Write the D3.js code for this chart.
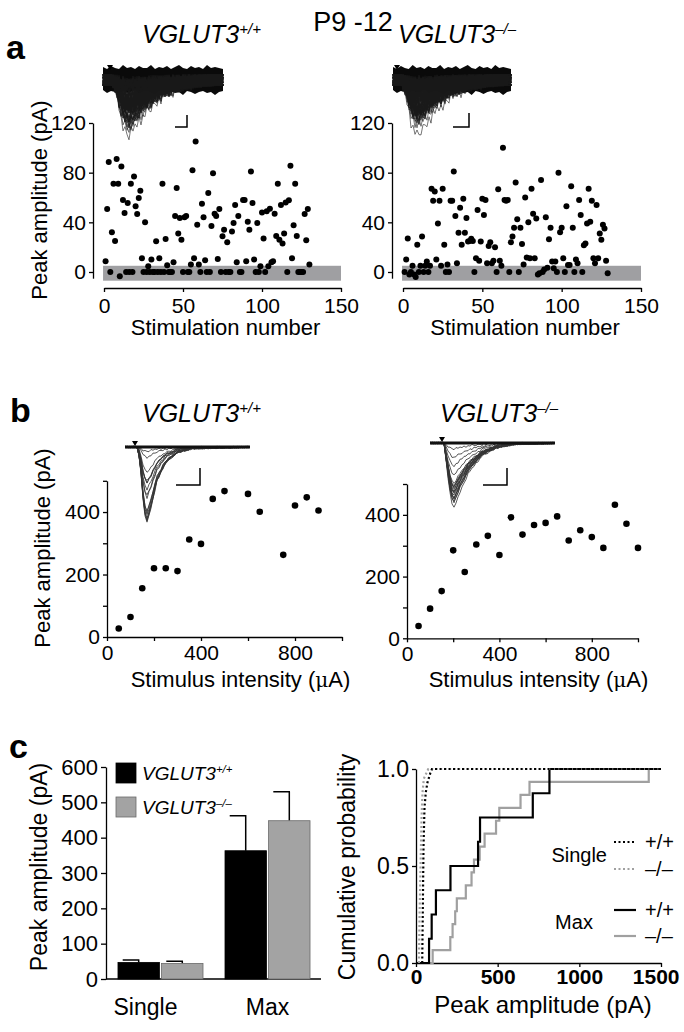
<!DOCTYPE html>
<html><head><meta charset="utf-8">
<script src="https://cdn.jsdelivr.net/npm/d3@7"></script>
<style>body{margin:0;background:#fff} svg{display:block} text{font-family:"Liberation Sans",Arial,Helvetica,sans-serif;fill:#000}</style>
</head><body><svg id="c" width="684" height="1032"></svg>
<script>
// ---------------- DATA ----------------
const stimAxisTicks = [0, 50, 100, 150];
const stimAmpTicks = [0, 40, 80, 120];
// panel a: peak amplitude per stimulation (stim number = index+1)
const stimWT = [8.6,50.7,88.6,0,32,71,25,91,71,-3.5,85,58,47.5,0,55.6,0,71,0,77,53,46.7,59.6,65.5,11,0,40,0,4.6,0,10,0,0,24.7,0,11,0,71,0,26.6,5.4,0,0,0,7.8,45,67.6,31,43.5,26,0,44,45,0,0,6,82,11,105,38,6,0,55,44,9.4,0,63.6,0,37,79.5,47,45,10.5,50.7,0,28.7,34,0,24,0,0,32.7,39.5,54,7.8,45,0,0,58,58,8.6,40.5,34,81,55.6,10,0,39.5,0,4.6,48,27,0,49,4.6,51,7.8,8.6,47,29,71,26,54,23,31,56,0,57.7,85.6,11,37.6,71,29,0,0,0,0,46.7,25.5,50.7,6];
const stimKO = [0,10,27,-2,0,5,-2,-4,22,0,5,28.5,0,5,8.4,0,5,67,57.4,64.8,10,39,57.4,5,67,22,0,6,0,57.4,57.4,81,45,7,31.6,51.7,22,59,31.6,43.5,24.5,25,26.7,25,0,11,50,9,24.5,59,46,58,7,21,24,7,9,20,0,66.7,9,5,100,58,57.4,58,0,24,28.5,35.6,72,42.4,0,35.6,22.6,6,60,11.7,40,11,67,47,11,43,-2,-1,74,0,2,44,3.5,26.4,35.6,8.4,3,8.4,0,80,32,35.6,11,0,53,5.7,5.7,69,35.6,0,10,7,58,46,0,21.5,23,39,67,40.5,57.4,11,7,54,11,31,26,38,35,9,-1];
const noiseBand = [-7, 5];
// panel b: input-output
const intensityTicks = [0, 200, 400, 600, 800, 1000];
const intensityLabels = [0, 400, 800];
const ioAmpTicks = [0, 100, 200, 300, 400, 500];
const ioAmpLabels = [0, 200, 400];
const intensityWT = [50,100,150,200,250,300,350,400,450,500,600,650,750,800,850,900];
const ioWT = [27,64,156,220,220,211,312,298,442,467,458,401,263,421,447,405];
const intensityKO = [50,100,150,200,250,300,350,400,450,500,550,600,650,700,750,800,850,900,950,1000];
const ioKO = [40,96,153,285,215,304,332,270,392,336,367,374,395,317,350,328,293,433,371,293];
// panel c: bars
const barCategories = ["Single", "Max"];
const genotypes = ["+/+", "\u2013/\u2013"];
const barMeanWT = [47, 363];
const barSemWT = [7, 99];
const barMeanKO = [44, 448];
const barSemKO = [6, 82];
const barTicks = [0, 100, 200, 300, 400, 500, 600];
// panel c: cumulative distributions
const maxWT = [80, 96, 122, 211, 380, 392, 715, 817];
const maxKO = [102, 210, 224, 240, 250, 305, 340, 355, 390, 420, 490, 510, 640, 695, 1425];
const singleWTcurve = [[38,0],[42,0.3],[46,0.6],[52,0.8],[60,0.88],[70,0.93],[88,0.98],[98,1],[1500,1]];
const singleKOcurve = [[18,0],[22,0.25],[28,0.5],[34,0.75],[40,0.88],[48,0.95],[75,1],[1500,1]];
const cumXTicks = [0, 500, 1000, 1500];
const cumYTicks = [0, 0.5, 1];
// inset trace shapes (time offset, fraction of peak)
const templateA = [[0,0],[5,0.3],[10,0.75],[16,1],[24,0.8],[35,0.55],[50,0.3],[70,0.12],[90,0.03],[106,0]];
const templateBwt = [[0,0],[3,0.35],[6,0.85],[9,1],[13,0.8],[19,0.45],[28,0.2],[40,0.07],[55,0.02],[110,0]];
const templateBko = [[0,0],[3,0.4],[7,0.9],[10,1],[16,0.75],[25,0.45],[38,0.2],[52,0.08],[70,0.02],[110,0]];
const noiseTop = [-13,-11,-14,-12,-11,-15,-12,-13,-11,-14,-12,-12,-15,-11,-13,-12,-14,-11,-13,-15,-12,-11,-14,-12,-13,-11,-15,-12,-13,-12,-11];
const noiseBot = [10,13,11,12,14,11,13,12,10,14,12,11,13,15,11,12,14,11,13,12,15,11,12,14,12,11,13,12,15,12,11];
const jitter = [0,1.5,-1,2,-2,0.5,-1.5,1,-0.5,2,-1,0,1.5,-2,0.5,-1,1,-1.5,2,-0.5,1,-2,0.5,1.5,-1];

// ---------------- DRAW ----------------
const FONT = '"Liberation Sans", Arial, Helvetica, sans-serif';
const svg = d3.select("#c");
const GRAY = "#9f9fa2";

function styleAxis(g, fs, bold) {
  g.attr("font-family", FONT);
  g.selectAll("path.domain").attr("stroke", "#000").attr("stroke-width", 1.3);
  g.selectAll(".tick line").attr("stroke", "#000").attr("stroke-width", 1.3);
  g.selectAll(".tick text").attr("font-size", fs).attr("fill", "#000").attr("font-weight", bold ? "bold" : "normal");
}
function label(x, y, txt, fs, opts = {}) {
  const t = svg.append("text").attr("x", x).attr("y", y).attr("font-size", fs).text(txt)
    .attr("text-anchor", opts.anchor || "middle");
  if (opts.bold) t.attr("font-weight", "bold");
  if (opts.rotate) t.attr("transform", `rotate(-90,${x},${y})`);
  return t;
}
function vtitle(x, y, sup, fs) {
  const t = svg.append("text").attr("x", x).attr("y", y).attr("font-size", fs).attr("font-style", "italic");
  t.append("tspan").text("VGLUT3");
  t.append("tspan").attr("font-size", fs * 0.6).attr("dy", -fs * 0.38).text(sup);
  return t;
}

label(353, 31, "P9 -12", 27);
label(6, 59, "a", 34, {anchor: "start", bold: true});
label(10, 422, "b", 34, {anchor: "start", bold: true});
label(9, 758, "c", 34, {anchor: "start", bold: true});

// ---- inset traces ----
function drawInset(o) {
  const g = svg.append("g");
  const t = d3.scaleLinear().domain([0, o.len]).range([o.x0, o.x0 + o.len]);
  if (o.noise) {
    const pts = noiseTop.map((v, j) => [t(j * o.len / (noiseTop.length - 1)), o.base + v])
      .concat(noiseBot.map((v, j) => [t(j * o.len / (noiseBot.length - 1)), o.base + v]).reverse());
    g.append("path").attr("d", d3.line().curve(d3.curveLinearClosed)(pts)).attr("fill", "#0a0a0a");
  }
  const interp = d3.scaleLinear().domain(o.template.map(d => d[0])).range(o.template.map(d => d[1])).clamp(true);
  o.amps.forEach((a, i) => {
    if (a <= 0 && o.noise) return;
    const pts = [];
    for (let s = 0; s <= o.len; s += 2) {
      const dt = s - (o.onset - o.x0);
      const f = dt < 0 ? 0 : interp(dt);
      const j = jitter[(s / 2 + i * 7) % jitter.length] * o.jit;
      pts.push([t(s), o.base + Math.max(0, a) * o.k * f + j]);
    }
    g.append("path").attr("d", d3.line()(pts)).attr("fill", "none")
      .attr("stroke", o.color).attr("stroke-width", o.sw).attr("stroke-opacity", o.op);
  });
  if (!o.noise) g.append("line").attr("x1", o.x0).attr("x2", o.x0 + o.len).attr("y1", o.base).attr("y2", o.base)
    .attr("stroke", "#111").attr("stroke-width", 3);
  g.append("path").attr("d", `M${o.stim - 3},${o.base - (o.noise ? 15 : 6)}h6l-3,5z`).attr("fill", "#000");
  g.append("path").attr("d", `M${o.sb[0]},${o.sb[2]}H${o.sb[1]}V${o.sb[3]}`).attr("fill", "none")
    .attr("stroke", "#000").attr("stroke-width", 1.5);
}
drawInset({x0: 103, len: 120, base: 80, onset: 112, stim: 110, template: templateA, amps: stimWT, k: 0.54,
  noise: true, jit: 3, color: "#1a1a1a", sw: 0.7, op: 0.85, sb: [175, 187, 127, 115]});
drawInset({x0: 393, len: 118, base: 80, onset: 401, stim: 397, template: templateA, amps: stimKO, k: 0.56,
  noise: true, jit: 3, color: "#1a1a1a", sw: 0.7, op: 0.85, sb: [453, 469, 127, 113]});
drawInset({x0: 125, len: 125, base: 447, onset: 138, stim: 135, template: templateBwt, amps: ioWT, k: 0.162,
  noise: false, jit: 0.5, color: "#333", sw: 0.9, op: 0.9, sb: [176, 200, 485, 468]});
drawInset({x0: 430, len: 125, base: 443, onset: 444, stim: 442, template: templateBko, amps: ioKO, k: 0.15,
  noise: false, jit: 0.5, color: "#333", sw: 0.9, op: 0.9, sb: [483, 507, 485, 468]});

// ---- panel a ----
function panelA(data, yAxisX, xr, showY) {
  const x = d3.scaleLinear().domain([0, 150]).range(xr);
  const y = d3.scaleLinear().domain([-5, 120]).range([278.2, 123]);
  svg.append("rect").attr("x", x(-0.6)).attr("width", x(150) - x(-0.6))
    .attr("y", y(noiseBand[1])).attr("height", y(noiseBand[0]) - y(noiseBand[1])).attr("fill", GRAY);
  const gy = svg.append("g").attr("transform", `translate(${yAxisX},0)`)
    .call(d3.axisLeft(y).tickValues(stimAmpTicks).tickSize(4).tickSizeOuter(0).tickPadding(3));
  styleAxis(gy, 21);
  const gx = svg.append("g").attr("transform", `translate(0,288)`)
    .call(d3.axisBottom(x).tickValues(stimAxisTicks).tickSize(4).tickSizeOuter(0).tickPadding(6));
  styleAxis(gx, 21);
  svg.append("g").selectAll("circle").data(data).join("circle")
    .attr("cx", (d, i) => x(i + 1)).attr("cy", d => y(d)).attr("r", 3).attr("fill", "#000");
  label((xr[0] + xr[1]) / 2 + 3, 335, "Stimulation number", 22);
  if (showY) label(47, 200, "Peak amplitude (pA)", 22, {rotate: true});
}
panelA(stimWT, 93, [104, 341], true);
panelA(stimKO, 392, [403, 641], false);
vtitle(142, 43, "+/+", 25);
vtitle(398, 43, "\u2013/\u2013", 25);

// ---- panel b ----
function panelB(xs, ys, xr, yr, showY) {
  const x = d3.scaleLinear().domain([0, 1000]).range(xr);
  const y = d3.scaleLinear().domain([0, 500]).range(yr);
  const gy = svg.append("g").attr("transform", `translate(${xr[0]},0)`)
    .call(d3.axisLeft(y).tickValues(ioAmpTicks).tickSize(4).tickSizeOuter(0).tickPadding(3)
      .tickFormat(d => ioAmpLabels.includes(d) ? d : ""));
  styleAxis(gy, 21);
  const gx = svg.append("g").attr("transform", `translate(0,${yr[0]})`)
    .call(d3.axisBottom(x).tickValues(intensityTicks).tickSize(4).tickSizeOuter(0).tickPadding(4)
      .tickFormat(d => intensityLabels.includes(d) ? d : ""));
  styleAxis(gx, 21);
  svg.append("g").selectAll("circle").data(xs).join("circle")
    .attr("cx", d => x(d)).attr("cy", (d, i) => y(ys[i])).attr("r", 3.3).attr("fill", "#000");
  const t = label((xr[0] + xr[1]) / 2 + 16, 687, "", 22);
  t.append("tspan").text("Stimulus intensity (");
  t.append("tspan").attr("font-family", "DejaVu Serif, serif").attr("font-size", 20).text("\u03bc");
  t.append("tspan").text("A)");
  if (showY) label(50, 548, "Peak amplitude (pA)", 22, {rotate: true});
}
panelB(intensityWT, ioWT, [107, 342], [637, 480.8], true);
panelB(intensityKO, ioKO, [407, 638], [638.3, 484], false);
vtitle(142, 422, "+/+", 25);
vtitle(440, 422, "\u2013/\u2013", 25);

// ---- panel c bars ----
{
  const y = d3.scaleLinear().domain([0, 600]).range([979, 767]);
  const x0 = d3.scaleBand().domain(barCategories).range([106, 322]).paddingInner(0.2056).paddingOuter(0.112);
  const x1 = d3.scaleBand().domain(genotypes).range([0, x0.bandwidth()]).paddingInner(0.05);
  const gy = svg.append("g").attr("transform", "translate(106,0)")
    .call(d3.axisLeft(y).tickValues(barTicks).tickSize(5).tickSizeOuter(0).tickPadding(3));
  styleAxis(gy, 22);
  svg.append("line").attr("x1", 106).attr("x2", 321).attr("y1", 979).attr("y2", 979)
    .attr("stroke", "#000").attr("stroke-width", 1.3);
  const rows = [];
  barCategories.forEach((c, i) => {
    rows.push({c, g: genotypes[0], m: barMeanWT[i], s: barSemWT[i], fill: "#000"});
    rows.push({c, g: genotypes[1], m: barMeanKO[i], s: barSemKO[i], fill: "#a3a3a3"});
  });
  rows.forEach(r => {
    const bx = x0(r.c) + x1(r.g), bw = x1.bandwidth(), cx = bx + bw / 2;
    svg.append("path").attr("d", `M${cx},${y(r.m)}V${y(r.m + r.s)}M${cx - 16},${y(r.m + r.s)}H${cx + 0.7}`)
      .attr("stroke", "#000").attr("stroke-width", 1.5).attr("fill", "none");
    svg.append("rect").attr("x", bx).attr("width", bw).attr("y", y(r.m)).attr("height", y(0) - y(r.m))
      .attr("fill", r.fill).attr("stroke", r.fill === "#000" ? "#000" : "#6a6a6a").attr("stroke-width", 0.8);
  });
  const catShift = {Single: -15, Max: 0};
  barCategories.forEach(c => label(x0(c) + x0.bandwidth() / 2 + catShift[c], 1015, c, 23));
  label(47, 867, "Peak amplitude (pA)", 23, {rotate: true});
  [["#000", genotypes[0], 763], ["#a3a3a3", genotypes[1], 797]].forEach(([f, g, yy]) => {
    svg.append("rect").attr("x", 116).attr("y", yy).attr("width", 20).attr("height", 20)
      .attr("fill", f).attr("stroke", f === "#000" ? "#000" : "#6a6a6a").attr("stroke-width", 0.8);
    vtitle(142, yy + 17, g, 19);
  });
}

// ---- panel c cumulative ----
{
  const x = d3.scaleLinear().domain([0, 1500]).range([416, 661]);
  const y = d3.scaleLinear().domain([0, 1]).range([963, 769]);
  const gy = svg.append("g").attr("transform", "translate(416,0)")
    .call(d3.axisLeft(y).tickValues(cumYTicks).tickSize(4).tickSizeOuter(0).tickPadding(3).tickFormat(d3.format(".1f")));
  styleAxis(gy, 23);
  const gx = svg.append("g").attr("transform", "translate(0,963)")
    .call(d3.axisBottom(x).tickValues(cumXTicks).tickSize(4).tickSizeOuter(0).tickPadding(2).tickFormat(d3.format("d")));
  styleAxis(gx, 21, true);
  gx.selectAll(".tick text").filter(d => d === 1500).attr("text-anchor", "end").attr("dx", 18);
  const ecdf = vals => [[0, 0]].concat(vals.map((v, i) => [v, (i + 1) / vals.length]), [[1500, 1]]);
  const step = d3.line().x(d => x(d[0])).y(d => y(d[1])).curve(d3.curveStepAfter);
  const lin = d3.line().x(d => x(d[0])).y(d => y(d[1]));
  svg.append("path").attr("d", step(ecdf(maxKO))).attr("fill", "none").attr("stroke", "#a0a0a0").attr("stroke-width", 2.2);
  svg.append("path").attr("d", step(ecdf(maxWT))).attr("fill", "none").attr("stroke", "#000").attr("stroke-width", 2.2);
  svg.append("path").attr("d", lin(singleKOcurve)).attr("fill", "none").attr("stroke", "#a0a0a0").attr("stroke-width", 2.2).attr("stroke-dasharray", "2,2.5");
  svg.append("path").attr("d", lin(singleWTcurve)).attr("fill", "none").attr("stroke", "#000").attr("stroke-width", 2.2).attr("stroke-dasharray", "2,2.5");
  label(355, 867, "Cumulative probability", 23, {rotate: true});
  label(543, 1013, "Peak amplitude (pA)", 24);
  label(607, 862, "Single", 20, {anchor: "end"});
  label(574, 929, "Max", 20);
  [[842, "#000", true, genotypes[0]], [869, "#a0a0a0", true, genotypes[1]],
   [910, "#000", false, genotypes[0]], [936, "#a0a0a0", false, genotypes[1]]].forEach(([yy, c, dot, g]) => {
    const l = svg.append("line").attr("x1", 614).attr("x2", 636).attr("y1", yy).attr("y2", yy)
      .attr("stroke", c).attr("stroke-width", 2.2);
    if (dot) l.attr("stroke-dasharray", "2,2.5");
    label(645, yy + 7, g, 20, {anchor: "start"});
  });
}
</script></body></html>
